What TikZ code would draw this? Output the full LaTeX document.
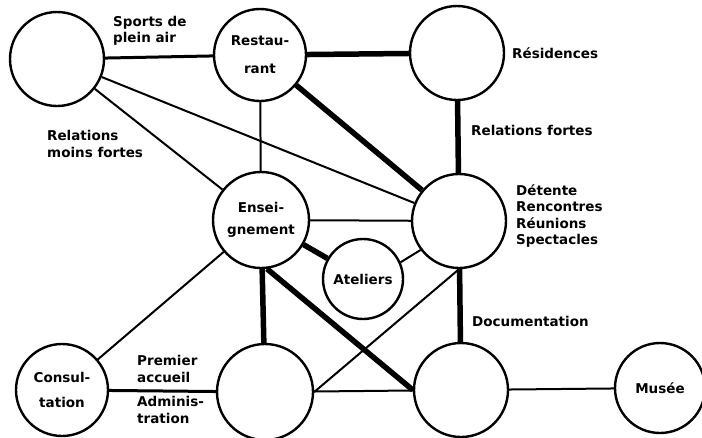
\documentclass[tikz,border=0pt]{standalone}
\usepackage{fontspec}
\setmainfont{DejaVu Sans}

\begin{document}
\begin{tikzpicture}[x=1pt, y=-1pt,
        pole/.style={circle, draw, line width=2.4pt, minimum size=94pt, inner sep=0pt,
            align=center, font=\bfseries\fontsize{13.5}{16.3}\selectfont},
        weak/.style={line width=2pt},
        medium/.style={line width=3pt},
        strong/.style={line width=5.5pt},
        lbl/.style={anchor=west, align=left, inner sep=0pt,
            font=\bfseries\fontsize{13.5}{16.3}\selectfont}]
        \useasboundingbox (0,0) rectangle (702,437);

        % Top row: sports, restaurant, residences
        \node[pole] (sport) at (57, 59) {};
        \node[pole, minimum size=92pt] (rest) at (260, 55) {Restau-\\[12pt]rant};
        \node[pole] (resid) at (457, 53) {};

        % Middle row: teaching, workshops, leisure
        \node[pole, minimum size=96pt] (ens) at (261, 220) {Ensei-\\[6pt]gnement};
        \node[pole, minimum size=80pt] (ateliers) at (363, 279) {Ateliers};
        \node[pole] (detente) at (459, 221) {};

        % Bottom row: consultation, reception, documentation, museum
        \node[pole, minimum size=92pt] (consult) at (62, 390) {Consul-\\[8pt]tation};
        \node[pole, minimum size=96pt] (admin) at (265, 392) {};
        \node[pole] (doc) at (461, 390) {};
        \node[pole, minimum size=90pt] (musee) at (660, 388) {Mus\'ee};

        % Strong relations
        \draw[strong] (rest) -- (resid);
        \draw[strong] (rest) -- (detente);
        \draw[strong] (resid) -- (detente);
        \draw[strong] (ens) -- (ateliers);
        \draw[strong] (ens) -- (admin);
        \draw[strong] (ens.-83) -- (doc.west);
        \draw[strong] (detente) -- (doc);

        % Weaker relations
        \draw[medium] (sport) -- (rest);
        \draw[medium] (consult) -- (admin);
        \draw[weak] (sport) -- (detente);
        \draw[weak] (sport) -- (ens);
        \draw[weak] (rest) -- (ens);
        \draw[weak] (ens) -- (detente);
        \draw[weak] (ateliers.24) -- (detente.217);
        \draw[weak] (ens) -- (consult);
        \draw[weak] (detente.south) -- (admin.east);
        \draw[weak] (admin) -- (doc);
        \draw[weak] (doc) -- (musee);

        % Labels
        \node[lbl] (lsport) at (113, 31) {Sports de\\plein air};
        \node[lbl] (lmoins) at (47, 144) {Relations\\moins fortes};
        \node[lbl] (lresid) at (512, 53) {R\'esidences};
        \node[lbl] (lfortes) at (471, 130) {Relations fortes};
        \node[lbl] (ldetente) at (516, 216) {D\'etente\\Rencontres\\R\'eunions\\Spectacles};
        \node[lbl] (ldoc) at (472, 321) {Documentation};
        \node[lbl] (laccueil) at (137, 369) {Premier\\accueil};
        \node[lbl] (ladmin) at (137, 410) {Adminis-\\tration};
    \end{tikzpicture}
\end{document}
